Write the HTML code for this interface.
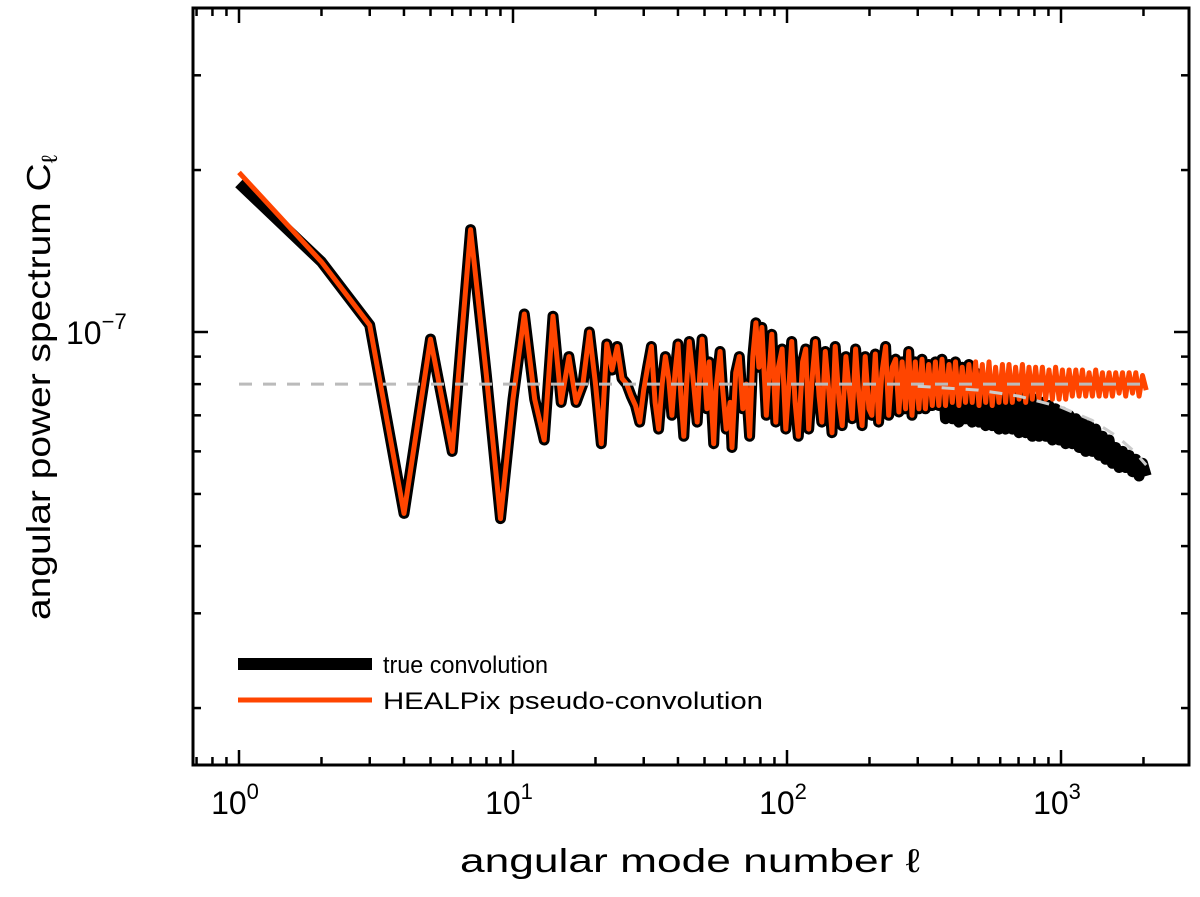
<!DOCTYPE html>
<html><head><meta charset="utf-8"><style>
html,body{margin:0;padding:0;background:#fff;}
svg{display:block;font-family:"Liberation Sans",sans-serif;}
</style></head><body>
<svg id="chart" width="1200" height="897" viewBox="0 0 1200 897" xmlns="http://www.w3.org/2000/svg">
<g id="marks"></g>
<g id="axes"></g>
<rect x="193" y="8" width="996" height="757" fill="none" stroke="#000" stroke-width="3"/>
<text x="66" y="344" font-size="32">10<tspan font-size="22" dy="-15">−7</tspan></text>
<text x="460" y="872" font-size="33" textLength="460" lengthAdjust="spacingAndGlyphs">angular mode number ℓ</text>
<text transform="translate(50,620) rotate(-90)" font-size="33" textLength="465" lengthAdjust="spacingAndGlyphs">angular power spectrum C<tspan font-size="22" dy="7">ℓ</tspan></text>
<g>
<line x1="238" y1="664" x2="372" y2="664" stroke="#000" stroke-width="12"/>
<text x="383" y="673" font-size="24" textLength="165" lengthAdjust="spacingAndGlyphs">true convolution</text>
<line x1="238" y1="700" x2="372" y2="700" stroke="#ff4500" stroke-width="5"/>
<text x="383" y="709" font-size="24" textLength="380" lengthAdjust="spacingAndGlyphs">HEALPix pseudo-convolution</text>
</g>
</svg>
<script>
const ells = [1,2,3,4,5,6,7,8,9,10,11,12,13,14,15,16,17,18,19,20,21,22,23,24,25,26,27,28,29,
30,31,32,33,34,35,36,37,38,39,
40,41,42,43,44,45,47,48,49,51,
52,54,55,57,58,60,62,63,65,67,
69,71,73,75,77,79,81,84,86,88,
91,93,96,99,102,104,107,110,114,117,
120,124,127,131,134,138,142,146,150,155,
159,164,168,173,178,183,188,193,199,204,
210,216,222,229,235,242,249,256,263,271,
278,286,294,303,311,320,329,339,348,358,
368,379,390,401,412,424,436,448,461,474,
488,502,516,531,546,561,577,594,611,628,
646,664,683,703,723,743,764,786,808,831,
855,879,904,930,956,984,1012,1040,1070,1100,
1132,1164,1197,1231,1266,1302,1339,1377,1416,1456,
1498,1540,1584,1629,1676,1723,1772,1823,1875,1928,
1983,2047];
const healpixValues = [19.8,13.5,10.3,4.6,9.7,6.0,15.5,8.3,4.5,7.5,10.8,7.5,6.3,10.7,7.4,9.0,7.4,8.0,10.0,8.0,6.2,9.5,8.5,9.4,8.2,8.0,7.6,7.3,6.8,
7.8,8.6,9.4,7.4,6.6,8.0,9.0,8.2,7.0,8.4,
9.5,7.6,6.4,8.0,9.6,8.6,6.8,8.3,9.7,7.2,
8.8,6.2,7.8,9.2,8.0,6.6,7.4,6.1,8.4,9.0,
7.2,8.0,6.4,9.0,10.4,8.6,10.2,7.0,8.4,9.9,
6.8,8.6,9.3,6.6,8.2,9.6,7.4,6.4,8.8,9.3,
6.6,8.4,9.6,7.6,6.8,9.2,7.8,6.5,9.4,7.4,
6.7,9.0,8.0,6.9,9.3,7.6,6.7,9.0,7.2,7.0,
9.1,6.8,8.4,9.4,7.0,8.6,8.9,7.1,8.8,7.2,
9.2,7.0,8.8,7.2,8.9,7.2,8.7,7.3,8.8,7.3,
8.9,7.3,8.7,7.4,8.8,7.3,8.6,7.4,8.7,7.4,
8.8,7.3,8.7,7.4,8.8,7.3,8.6,7.4,8.7,7.4,
8.7,7.4,8.6,7.5,8.7,7.4,8.6,7.5,8.6,7.5,
8.6,7.5,8.5,7.5,8.6,7.5,8.5,7.5,8.5,7.6,
8.5,7.6,8.5,7.6,8.4,7.6,8.5,7.6,8.4,7.6,
8.4,7.6,8.4,7.7,8.4,7.6,8.4,7.7,8.4,7.6,
8.3,7.8];
const trueValues = [18.9,13.5,10.3,4.6,9.7,6.0,15.5,8.3,4.5,7.5,10.8,7.5,6.3,10.7,7.4,9.0,7.4,8.0,10.0,8.0,6.2,9.5,8.5,9.4,8.2,8.0,7.6,7.3,6.8,
7.8,8.6,9.4,7.4,6.6,8.0,9.0,8.2,7.0,8.4,
9.5,7.6,6.4,8.0,9.6,8.6,6.8,8.3,9.7,7.2,
8.8,6.2,7.8,9.2,8.0,6.6,7.4,6.1,8.4,9.0,
7.2,8.0,6.4,9.0,10.4,8.6,10.2,7.0,8.4,9.9,
6.8,8.6,9.3,6.6,8.2,9.6,7.4,6.4,8.8,9.3,
6.6,8.4,9.6,7.6,6.8,9.2,7.8,6.5,9.4,7.4,
6.7,9.0,8.0,6.9,9.3,7.6,6.7,9.0,7.2,7.0,
9.1,6.8,8.4,9.4,7.0,8.6,8.9,7.1,8.8,7.2,
9.2,7.0,8.8,7.2,8.9,7.2,8.7,7.3,8.8,7.3,
8.9,6.9,8.7,6.9,8.8,6.8,8.6,6.9,8.7,6.8,
8.4,6.8,8.2,6.7,8.1,6.7,8.0,6.6,8.0,6.6,
7.9,6.6,7.8,6.5,7.7,6.5,7.6,6.4,7.5,6.4,
7.4,6.4,7.3,6.3,7.2,6.3,7.1,6.2,7.0,6.2,
6.9,6.1,6.8,6.0,6.7,6.0,6.6,5.9,6.4,5.8,
6.3,5.7,6.1,5.6,6.0,5.6,5.9,5.5,5.8,5.4,
5.7,5.4];
const flatEll = [1,2047];
const flatValues = [8.0,8.0];
const beamEll = [300,500,700,1000,1300,1600,1850,2047];
const beamValues = [7.93,7.8,7.6,7.25,6.85,6.4,6.0,5.66];
const xMajorTicks = [1,10,100,1000];
const xTickLabels = ['0','1','2','3'];

const X0=239, XDEC=274, Y0=332, YDEC=538;
function xs(l){return X0+XDEC*Math.log10(l);}
function ys(v){return Y0-YDEC*(Math.log10(v)-1);} // v in units of 1e-8
const NS='http://www.w3.org/2000/svg';
const marks=document.getElementById('marks'), axes=document.getElementById('axes'), svg=document.getElementById('chart');
function pts(e,v){return e.map((l,i)=>xs(l).toFixed(1)+','+ys(v[i]).toFixed(1)).join(' ');}
function poly(e,v,color,w,dash,name){
  const p=document.createElementNS(NS,'polyline');
  p.setAttribute('points',pts(e,v));
  p.setAttribute('fill','none');p.setAttribute('stroke',color);p.setAttribute('stroke-width',w);
  p.setAttribute('stroke-linejoin','round');p.setAttribute('stroke-linecap','butt');
  if(dash)p.setAttribute('stroke-dasharray',dash);
  
  
  marks.appendChild(p);
}
poly(ells,trueValues,'#000',11,null,'true-convolution-line');
poly(ells,healpixValues,'#ff4500',5,null,'healpix-line');
poly(flatEll,flatValues,'#bbbbbb',3,'13,11','reference-flat-dashed');
poly(beamEll,beamValues,'#cccccc',3,'13,11','reference-beam-dashed');

function tick(x1,y1,x2,y2){
  const l=document.createElementNS(NS,'line');
  l.setAttribute('x1',x1);l.setAttribute('y1',y1);l.setAttribute('x2',x2);l.setAttribute('y2',y2);
  l.setAttribute('stroke','#000');l.setAttribute('stroke-width',2.5);
  
  
  axes.appendChild(l);
}
for(let d=0;d<4;d++){
  for(let m=1;m<10;m++){
    const l=Math.pow(10,d)*m; const x=xs(l);
    if(x<194||x>1188)continue;
    const len=m===1?15:8;
    tick(x,765,x,765-len); tick(x,8,x,8+len);
  }
}
for(let m=7;m<10;m++){const x=xs(m/10);tick(x,765,x,757);tick(x,8,x,16);}
xMajorTicks.forEach((l,i)=>{
  const t=document.createElementNS(NS,'text');
  t.setAttribute('x',xs(l)-4);t.setAttribute('y',814);t.setAttribute('font-size','32');t.setAttribute('text-anchor','middle');
  t.innerHTML='10<tspan font-size="22" dy="-15">'+xTickLabels[i]+'</tspan>';
  
  
  svg.appendChild(t);
});
[2,3,4,5,6,7,8,9,10,20,30].forEach(v=>{
  const y=ys(v); if(y<9||y>764)return;
  const len=v===10?15:8;
  tick(193,y,193+len,y); tick(1189,y,1189-len,y);
});
</script>
</body></html>
